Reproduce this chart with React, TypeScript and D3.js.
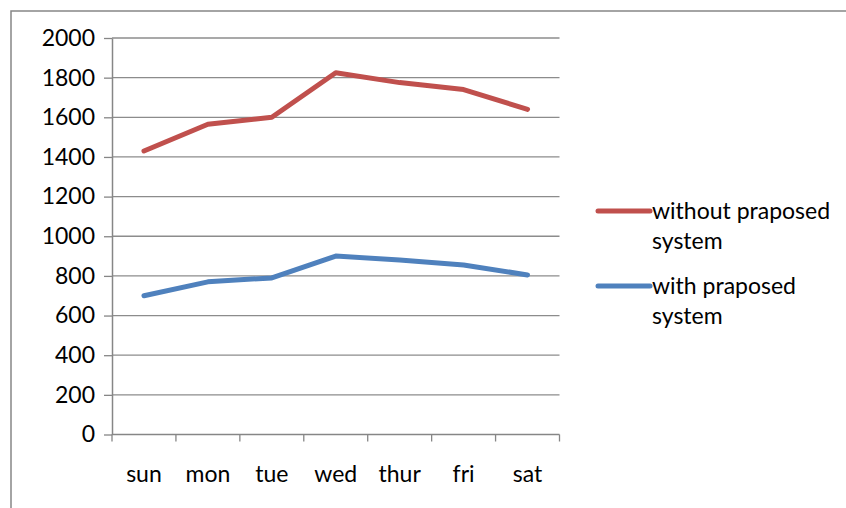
import * as d3 from "d3";
import { useEffect, useRef } from "react";

const days = ["sun", "mon", "tue", "wed", "thur", "fri", "sat"];
const withoutSystem = [1430, 1565, 1600, 1825, 1775, 1740, 1640];
const withSystem = [700, 770, 790, 900, 880, 855, 805];
const yTicks = [0, 200, 400, 600, 800, 1000, 1200, 1400, 1600, 1800, 2000];
const seriesNames = ["without praposed|system", "with praposed|system"];
const seriesColors = ["#C0504D", "#4F81BD"];

function App() {
  const ref = useRef<SVGSVGElement>(null);

  useEffect(() => {
    const width = 846;
    const height = 508;
    const font = "Lato, 'Open Sans', sans-serif";
    const fontSize = 23;

    const svg = d3.select(ref.current);
    svg.selectAll("*").remove();

    svg.append("rect").attr("width", width).attr("height", height).attr("fill", "#fff");

    // outer chart frame (runs off the right and bottom)
    svg
      .append("rect")
      .attr("x", 11)
      .attr("y", 11)
      .attr("width", width + 20)
      .attr("height", height + 20)
      .attr("fill", "none")
      .attr("stroke", "#868686")
      .attr("stroke-width", 1.5);

    const x = d3.scaleBand<string>().domain(days).range([112, 559.5]);
    const y = d3.scaleLinear().domain([0, 2000]).range([434.5, 38]);

    // gridlines
    svg
      .append("g")
      .selectAll("line")
      .data(yTicks.slice(1))
      .join("line")
      .attr("x1", 112)
      .attr("x2", 559.5)
      .attr("y1", (d) => y(d))
      .attr("y2", (d) => y(d))
      .attr("stroke", "#8c8c8c")
      .attr("stroke-width", 1.3);

    // y axis
    const yAxis = svg
      .append("g")
      .attr("transform", "translate(112,0)")
      .call(
        d3
          .axisLeft(y)
          .tickValues(yTicks)
          .tickFormat(d3.format("d"))
          .tickSize(8)
          .tickSizeOuter(0)
          .tickPadding(9)
      );
    yAxis.select(".domain").attr("stroke", "#868686").attr("stroke-width", 1.5);
    yAxis.selectAll(".tick line").attr("stroke", "#868686").attr("stroke-width", 1.3);
    yAxis
      .selectAll(".tick text")
      .attr("font-family", font)
      .attr("font-size", fontSize)
      .attr("fill", "#000");

    // x axis
    const xAxis = svg
      .append("g")
      .attr("transform", `translate(0,${y(0)})`)
      .call(d3.axisBottom(x).tickSize(0).tickPadding(31));
    xAxis.select(".domain").remove();
    xAxis
      .selectAll(".tick text")
      .attr("font-family", font)
      .attr("font-size", fontSize)
      .attr("fill", "#000");
    svg
      .append("line")
      .attr("x1", 112)
      .attr("x2", 559.5)
      .attr("y1", y(0))
      .attr("y2", y(0))
      .attr("stroke", "#868686")
      .attr("stroke-width", 1.5);
    const bounds = [...days.map((d) => x(d) ?? 0), 559.5];
    svg
      .append("g")
      .selectAll("line")
      .data(bounds)
      .join("line")
      .attr("x1", (d) => d)
      .attr("x2", (d) => d)
      .attr("y1", y(0))
      .attr("y2", y(0) + 7)
      .attr("stroke", "#868686")
      .attr("stroke-width", 1.3);

    const line = d3
      .line<number>()
      .x((_, i) => (x(days[i]) ?? 0) + x.bandwidth() / 2)
      .y((d) => y(d));

    [withoutSystem, withSystem].forEach((s, i) => {
      svg
        .append("path")
        .datum(s)
        .attr("d", line)
        .attr("fill", "none")
        .attr("stroke", seriesColors[i])
        .attr("stroke-width", 5)
        .attr("stroke-linejoin", "round")
        .attr("stroke-linecap", "round");
    });

    // legend
    const legend = svg
      .append("g")
      .selectAll("g")
      .data(seriesNames)
      .join("g")
      .attr("transform", (_, i) => `translate(598,${211 + i * 75})`);
    legend
      .append("line")
      .attr("x1", 0)
      .attr("x2", 52)
      .attr("stroke", (_, i) => seriesColors[i])
      .attr("stroke-width", 5)
      .attr("stroke-linecap", "round");
    legend
      .append("text")
      .attr("font-family", font)
      .attr("font-size", fontSize)
      .attr("fill", "#000")
      .selectAll("tspan")
      .data((d) => d.split("|"))
      .join("tspan")
      .attr("x", 54)
      .attr("y", (_, j) => j * 30)
      .attr("dy", "0.35em")
      .text((d) => d);

    return () => {
      svg.selectAll("*").remove();
    };
  }, []);

  return (
    <svg
      ref={ref}
      width={846}
      height={508}
      style={{ position: "absolute", left: 0, top: 0, display: "block" }}
    ></svg>
  );
}

export default App;
